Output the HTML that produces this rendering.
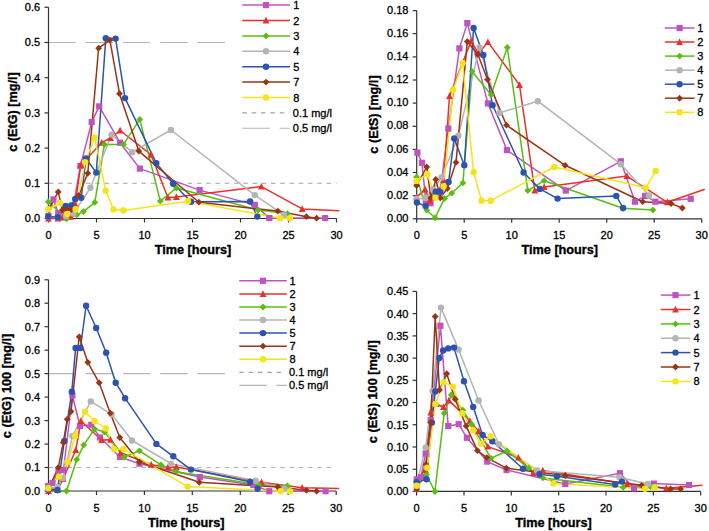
<!DOCTYPE html>
<html><head><meta charset="utf-8"><title>EtG EtS charts</title>
<style>
html,body{margin:0;padding:0;background:#fff;}
body{width:709px;height:531px;overflow:hidden;}
svg{display:block;}
.t{font-family:"Liberation Sans",sans-serif;font-size:11px;fill:#000;stroke:#000;stroke-width:0.3px;}
.b{font-family:"Liberation Sans",sans-serif;font-size:12.7px;font-weight:bold;fill:#000;stroke:#000;stroke-width:0.35px;}
</style></head>
<body>
<svg width="709" height="531" viewBox="0 0 709 531">
<rect width="709" height="531" fill="#fff"/>
<line x1="49.0" y1="183.3" x2="336.5" y2="183.3" stroke="#A2A2A2" stroke-width="1.1" stroke-dasharray="4.5 4.75"/>
<line x1="48.5" y1="42.5" x2="336.5" y2="42.5" stroke="#B6B6B6" stroke-width="1.1" stroke-dasharray="27.5 9.75"/>
<path d="M48.5 7.3V218.5H336.5" fill="none" stroke="#333333" stroke-width="1.2"/>
<line x1="44.5" y1="218.5" x2="48.5" y2="218.5" stroke="#333333" stroke-width="1.2"/>
<text x="40.1" y="222.4" class="t" text-anchor="end">0.0</text>
<line x1="44.5" y1="183.3" x2="48.5" y2="183.3" stroke="#333333" stroke-width="1.2"/>
<text x="40.1" y="187.2" class="t" text-anchor="end">0.1</text>
<line x1="44.5" y1="148.1" x2="48.5" y2="148.1" stroke="#333333" stroke-width="1.2"/>
<text x="40.1" y="152.0" class="t" text-anchor="end">0.2</text>
<line x1="44.5" y1="112.9" x2="48.5" y2="112.9" stroke="#333333" stroke-width="1.2"/>
<text x="40.1" y="116.8" class="t" text-anchor="end">0.3</text>
<line x1="44.5" y1="77.7" x2="48.5" y2="77.7" stroke="#333333" stroke-width="1.2"/>
<text x="40.1" y="81.6" class="t" text-anchor="end">0.4</text>
<line x1="44.5" y1="42.5" x2="48.5" y2="42.5" stroke="#333333" stroke-width="1.2"/>
<text x="40.1" y="46.4" class="t" text-anchor="end">0.5</text>
<line x1="44.5" y1="7.3" x2="48.5" y2="7.3" stroke="#333333" stroke-width="1.2"/>
<text x="40.1" y="11.2" class="t" text-anchor="end">0.6</text>
<line x1="48.5" y1="218.5" x2="48.5" y2="222.5" stroke="#333333" stroke-width="1.2"/>
<text x="48.5" y="238.8" class="t" text-anchor="middle">0</text>
<line x1="96.5" y1="218.5" x2="96.5" y2="222.5" stroke="#333333" stroke-width="1.2"/>
<text x="96.5" y="238.8" class="t" text-anchor="middle">5</text>
<line x1="144.5" y1="218.5" x2="144.5" y2="222.5" stroke="#333333" stroke-width="1.2"/>
<text x="144.5" y="238.8" class="t" text-anchor="middle">10</text>
<line x1="192.5" y1="218.5" x2="192.5" y2="222.5" stroke="#333333" stroke-width="1.2"/>
<text x="192.5" y="238.8" class="t" text-anchor="middle">15</text>
<line x1="240.5" y1="218.5" x2="240.5" y2="222.5" stroke="#333333" stroke-width="1.2"/>
<text x="240.5" y="238.8" class="t" text-anchor="middle">20</text>
<line x1="288.5" y1="218.5" x2="288.5" y2="222.5" stroke="#333333" stroke-width="1.2"/>
<text x="288.5" y="238.8" class="t" text-anchor="middle">25</text>
<line x1="336.5" y1="218.5" x2="336.5" y2="222.5" stroke="#333333" stroke-width="1.2"/>
<text x="336.5" y="238.8" class="t" text-anchor="middle">30</text>
<text x="193" y="254.3" class="b" text-anchor="middle">Time [hours]</text>
<text transform="translate(17.3,112) rotate(-90)" class="b" text-anchor="middle">c (EtG) [mg/l]</text>
<polyline points="48.4,216.0 53.5,199.4 58.2,213.2 66.0,212.0 73.0,208.0 80.4,166.0 91.7,122.1 99.2,106.4 120.0,142.7 139.9,168.6 199.6,190.1 254.8,204.9 269.3,218.1 325.2,218.1" fill="none" stroke="#BE55BF" stroke-width="1.5" stroke-linejoin="round"/>
<polyline points="48.4,218.5 58.0,218.5 62.4,217.4 70.7,216.8 75.2,204.3 80.8,165.0 101.7,142.7 110.5,138.0 120.1,130.5 151.0,154.7 167.9,197.5 176.4,196.9 261.4,186.6 302.2,208.9 339.2,210.8" fill="none" stroke="#E8302C" stroke-width="1.5" stroke-linejoin="round"/>
<polyline points="48.3,201.8 66.5,218.8 76.8,214.8 83.5,211.6 94.8,202.4 104.4,144.4 123.5,144.4 139.8,119.4 160.3,201.1 176.4,188.0 258.1,210.0 287.4,213.6" fill="none" stroke="#58BF0E" stroke-width="1.5" stroke-linejoin="round"/>
<polyline points="48.4,216.4 57.8,217.2 66.0,216.0 73.4,213.5 90.4,187.8 111.6,134.6 132.1,152.2 170.9,130.0 254.8,195.1 284.0,214.8" fill="none" stroke="#B4B4B4" stroke-width="1.5" stroke-linejoin="round"/>
<polyline points="48.3,216.4 57.8,217.2 65.6,206.0 71.2,205.5 75.2,199.0 81.2,197.8 86.0,158.5 96.3,172.6 105.8,38.2 115.6,38.6 125.0,98.1 156.3,163.1 173.2,183.8 191.1,201.7 250.1,201.5 257.3,216.6" fill="none" stroke="#2C54AE" stroke-width="1.5" stroke-linejoin="round"/>
<polyline points="48.3,209.3 58.2,191.9 62.4,210.0 66.9,209.3 71.4,209.6 78.8,195.4 87.8,173.3 98.6,48.2 109.9,40.1 119.5,93.7 138.8,151.1 198.9,202.2 277.8,211.1 306.4,216.7 316.6,218.2" fill="none" stroke="#9A3512" stroke-width="1.5" stroke-linejoin="round"/>
<polyline points="48.3,209.3 59.8,202.9 67.3,214.0 75.6,209.3 85.2,162.1 94.7,137.7 105.7,190.6 113.5,209.5 123.4,210.4 188.0,201.3 280.3,218.2 289.9,218.2" fill="none" stroke="#F4E41C" stroke-width="1.5" stroke-linejoin="round"/>
<rect x="45.3" y="212.9" width="6.2" height="6.2" fill="#BE55BF"/>
<rect x="50.4" y="196.3" width="6.2" height="6.2" fill="#BE55BF"/>
<rect x="55.1" y="210.1" width="6.2" height="6.2" fill="#BE55BF"/>
<rect x="62.9" y="208.9" width="6.2" height="6.2" fill="#BE55BF"/>
<rect x="69.9" y="204.9" width="6.2" height="6.2" fill="#BE55BF"/>
<rect x="77.3" y="162.9" width="6.2" height="6.2" fill="#BE55BF"/>
<rect x="88.6" y="119.0" width="6.2" height="6.2" fill="#BE55BF"/>
<rect x="96.1" y="103.3" width="6.2" height="6.2" fill="#BE55BF"/>
<rect x="116.9" y="139.6" width="6.2" height="6.2" fill="#BE55BF"/>
<rect x="136.8" y="165.5" width="6.2" height="6.2" fill="#BE55BF"/>
<rect x="196.5" y="187.0" width="6.2" height="6.2" fill="#BE55BF"/>
<rect x="251.7" y="201.8" width="6.2" height="6.2" fill="#BE55BF"/>
<rect x="266.2" y="215.0" width="6.2" height="6.2" fill="#BE55BF"/>
<rect x="322.1" y="215.0" width="6.2" height="6.2" fill="#BE55BF"/>
<path d="M48.4 214.8L51.8 221.5L45.0 221.5Z" fill="#E8302C"/>
<path d="M58.0 214.8L61.4 221.5L54.6 221.5Z" fill="#E8302C"/>
<path d="M62.4 213.7L65.8 220.4L59.0 220.4Z" fill="#E8302C"/>
<path d="M70.7 213.1L74.1 219.8L67.3 219.8Z" fill="#E8302C"/>
<path d="M75.2 200.6L78.6 207.3L71.8 207.3Z" fill="#E8302C"/>
<path d="M80.8 161.3L84.2 168.0L77.4 168.0Z" fill="#E8302C"/>
<path d="M101.7 139.0L105.1 145.7L98.3 145.7Z" fill="#E8302C"/>
<path d="M110.5 134.3L113.9 141.0L107.1 141.0Z" fill="#E8302C"/>
<path d="M120.1 126.8L123.5 133.5L116.7 133.5Z" fill="#E8302C"/>
<path d="M151.0 151.0L154.4 157.7L147.6 157.7Z" fill="#E8302C"/>
<path d="M167.9 193.8L171.3 200.5L164.5 200.5Z" fill="#E8302C"/>
<path d="M176.4 193.2L179.8 199.9L173.0 199.9Z" fill="#E8302C"/>
<path d="M261.4 182.9L264.8 189.6L258.0 189.6Z" fill="#E8302C"/>
<path d="M302.2 205.2L305.6 211.9L298.8 211.9Z" fill="#E8302C"/>
<path d="M48.3 198.4L51.7 201.8L48.3 205.2L44.9 201.8Z" fill="#58BF0E"/>
<path d="M66.5 215.4L69.9 218.8L66.5 222.2L63.1 218.8Z" fill="#58BF0E"/>
<path d="M76.8 211.4L80.2 214.8L76.8 218.2L73.4 214.8Z" fill="#58BF0E"/>
<path d="M83.5 208.2L86.9 211.6L83.5 215.0L80.1 211.6Z" fill="#58BF0E"/>
<path d="M94.8 199.0L98.2 202.4L94.8 205.8L91.4 202.4Z" fill="#58BF0E"/>
<path d="M104.4 141.0L107.8 144.4L104.4 147.8L101.0 144.4Z" fill="#58BF0E"/>
<path d="M123.5 141.0L126.9 144.4L123.5 147.8L120.1 144.4Z" fill="#58BF0E"/>
<path d="M139.8 116.0L143.2 119.4L139.8 122.8L136.4 119.4Z" fill="#58BF0E"/>
<path d="M160.3 197.7L163.7 201.1L160.3 204.5L156.9 201.1Z" fill="#58BF0E"/>
<path d="M176.4 184.6L179.8 188.0L176.4 191.4L173.0 188.0Z" fill="#58BF0E"/>
<path d="M258.1 206.6L261.5 210.0L258.1 213.4L254.7 210.0Z" fill="#58BF0E"/>
<path d="M287.4 210.2L290.8 213.6L287.4 217.0L284.0 213.6Z" fill="#58BF0E"/>
<circle cx="48.4" cy="216.4" r="3.2" fill="#B4B4B4"/>
<circle cx="57.8" cy="217.2" r="3.2" fill="#B4B4B4"/>
<circle cx="66.0" cy="216.0" r="3.2" fill="#B4B4B4"/>
<circle cx="73.4" cy="213.5" r="3.2" fill="#B4B4B4"/>
<circle cx="90.4" cy="187.8" r="3.2" fill="#B4B4B4"/>
<circle cx="111.6" cy="134.6" r="3.2" fill="#B4B4B4"/>
<circle cx="132.1" cy="152.2" r="3.2" fill="#B4B4B4"/>
<circle cx="170.9" cy="130.0" r="3.2" fill="#B4B4B4"/>
<circle cx="254.8" cy="195.1" r="3.2" fill="#B4B4B4"/>
<circle cx="284.0" cy="214.8" r="3.2" fill="#B4B4B4"/>
<circle cx="48.3" cy="216.4" r="3.2" fill="#2C54AE"/>
<circle cx="57.8" cy="217.2" r="3.2" fill="#2C54AE"/>
<circle cx="65.6" cy="206.0" r="3.2" fill="#2C54AE"/>
<circle cx="71.2" cy="205.5" r="3.2" fill="#2C54AE"/>
<circle cx="75.2" cy="199.0" r="3.2" fill="#2C54AE"/>
<circle cx="81.2" cy="197.8" r="3.2" fill="#2C54AE"/>
<circle cx="86.0" cy="158.5" r="3.2" fill="#2C54AE"/>
<circle cx="96.3" cy="172.6" r="3.2" fill="#2C54AE"/>
<circle cx="105.8" cy="38.2" r="3.2" fill="#2C54AE"/>
<circle cx="115.6" cy="38.6" r="3.2" fill="#2C54AE"/>
<circle cx="125.0" cy="98.1" r="3.2" fill="#2C54AE"/>
<circle cx="156.3" cy="163.1" r="3.2" fill="#2C54AE"/>
<circle cx="173.2" cy="183.8" r="3.2" fill="#2C54AE"/>
<circle cx="191.1" cy="201.7" r="3.2" fill="#2C54AE"/>
<circle cx="250.1" cy="201.5" r="3.2" fill="#2C54AE"/>
<circle cx="257.3" cy="216.6" r="3.2" fill="#2C54AE"/>
<path d="M48.3 205.9L51.7 209.3L48.3 212.7L44.9 209.3Z" fill="#9A3512"/>
<path d="M58.2 188.5L61.6 191.9L58.2 195.3L54.8 191.9Z" fill="#9A3512"/>
<path d="M62.4 206.6L65.8 210.0L62.4 213.4L59.0 210.0Z" fill="#9A3512"/>
<path d="M66.9 205.9L70.3 209.3L66.9 212.7L63.5 209.3Z" fill="#9A3512"/>
<path d="M71.4 206.2L74.8 209.6L71.4 213.0L68.0 209.6Z" fill="#9A3512"/>
<path d="M78.8 192.0L82.2 195.4L78.8 198.8L75.4 195.4Z" fill="#9A3512"/>
<path d="M87.8 169.9L91.2 173.3L87.8 176.7L84.4 173.3Z" fill="#9A3512"/>
<path d="M98.6 44.8L102.0 48.2L98.6 51.6L95.2 48.2Z" fill="#9A3512"/>
<path d="M109.9 36.7L113.3 40.1L109.9 43.5L106.5 40.1Z" fill="#9A3512"/>
<path d="M119.5 90.3L122.9 93.7L119.5 97.1L116.1 93.7Z" fill="#9A3512"/>
<path d="M138.8 147.7L142.2 151.1L138.8 154.5L135.4 151.1Z" fill="#9A3512"/>
<path d="M198.9 198.8L202.3 202.2L198.9 205.6L195.5 202.2Z" fill="#9A3512"/>
<path d="M277.8 207.7L281.2 211.1L277.8 214.5L274.4 211.1Z" fill="#9A3512"/>
<path d="M306.4 213.3L309.8 216.7L306.4 220.1L303.0 216.7Z" fill="#9A3512"/>
<path d="M316.6 214.8L320.0 218.2L316.6 221.6L313.2 218.2Z" fill="#9A3512"/>
<circle cx="48.3" cy="209.3" r="3.2" fill="#F4E41C"/>
<circle cx="59.8" cy="202.9" r="3.2" fill="#F4E41C"/>
<circle cx="67.3" cy="214.0" r="3.2" fill="#F4E41C"/>
<circle cx="75.6" cy="209.3" r="3.2" fill="#F4E41C"/>
<circle cx="85.2" cy="162.1" r="3.2" fill="#F4E41C"/>
<circle cx="94.7" cy="137.7" r="3.2" fill="#F4E41C"/>
<circle cx="105.7" cy="190.6" r="3.2" fill="#F4E41C"/>
<circle cx="113.5" cy="209.5" r="3.2" fill="#F4E41C"/>
<circle cx="123.4" cy="210.4" r="3.2" fill="#F4E41C"/>
<circle cx="188.0" cy="201.3" r="3.2" fill="#F4E41C"/>
<circle cx="280.3" cy="218.2" r="3.2" fill="#F4E41C"/>
<circle cx="289.9" cy="218.2" r="3.2" fill="#F4E41C"/>
<rect x="232" y="-1" width="114" height="138" fill="#fff"/>
<line x1="242.3" y1="5.1" x2="290" y2="5.1" stroke="#BE55BF" stroke-width="1.5"/>
<rect x="262.9" y="2.0" width="6.2" height="6.2" fill="#BE55BF"/>
<text x="293.3" y="9.1" class="t">1</text>
<line x1="242.3" y1="20.5" x2="290" y2="20.5" stroke="#E8302C" stroke-width="1.5"/>
<path d="M266.0 16.8L269.4 23.5L262.6 23.5Z" fill="#E8302C"/>
<text x="293.3" y="24.5" class="t">2</text>
<line x1="242.3" y1="35.9" x2="290" y2="35.9" stroke="#58BF0E" stroke-width="1.5"/>
<path d="M266.0 32.5L269.4 35.9L266.0 39.3L262.6 35.9Z" fill="#58BF0E"/>
<text x="293.3" y="39.9" class="t">3</text>
<line x1="242.3" y1="51.3" x2="290" y2="51.3" stroke="#B4B4B4" stroke-width="1.5"/>
<circle cx="266.0" cy="51.3" r="3.2" fill="#B4B4B4"/>
<text x="293.3" y="55.3" class="t">4</text>
<line x1="242.3" y1="66.7" x2="290" y2="66.7" stroke="#2C54AE" stroke-width="1.5"/>
<circle cx="266.0" cy="66.7" r="3.2" fill="#2C54AE"/>
<text x="293.3" y="70.7" class="t">5</text>
<line x1="242.3" y1="82.1" x2="290" y2="82.1" stroke="#9A3512" stroke-width="1.5"/>
<path d="M266.0 78.7L269.4 82.1L266.0 85.5L262.6 82.1Z" fill="#9A3512"/>
<text x="293.3" y="86.1" class="t">7</text>
<line x1="242.3" y1="97.5" x2="290" y2="97.5" stroke="#F4E41C" stroke-width="1.5"/>
<circle cx="266.0" cy="97.5" r="3.2" fill="#F4E41C"/>
<text x="293.3" y="101.5" class="t">8</text>
<line x1="242.3" y1="112.9" x2="288.8" y2="112.9" stroke="#A2A2A2" stroke-width="1.1" stroke-dasharray="4.5 4.85"/>
<text x="292.8" y="116.9" class="t">0.1 mg/l</text>
<line x1="242.3" y1="128.3" x2="290" y2="128.3" stroke="#B6B6B6" stroke-width="1.1" stroke-dasharray="27.5 9.75"/>
<text x="292.8" y="132.3" class="t">0.5 mg/l</text>
<path d="M416.7 10.6V218.8H701.7" fill="none" stroke="#333333" stroke-width="1.2"/>
<line x1="412.7" y1="218.8" x2="416.7" y2="218.8" stroke="#333333" stroke-width="1.2"/>
<text x="408.5" y="221.9" class="t" text-anchor="end">0.00</text>
<line x1="412.7" y1="195.7" x2="416.7" y2="195.7" stroke="#333333" stroke-width="1.2"/>
<text x="408.5" y="198.8" class="t" text-anchor="end">0.02</text>
<line x1="412.7" y1="172.5" x2="416.7" y2="172.5" stroke="#333333" stroke-width="1.2"/>
<text x="408.5" y="175.6" class="t" text-anchor="end">0.04</text>
<line x1="412.7" y1="149.4" x2="416.7" y2="149.4" stroke="#333333" stroke-width="1.2"/>
<text x="408.5" y="152.5" class="t" text-anchor="end">0.06</text>
<line x1="412.7" y1="126.3" x2="416.7" y2="126.3" stroke="#333333" stroke-width="1.2"/>
<text x="408.5" y="129.4" class="t" text-anchor="end">0.08</text>
<line x1="412.7" y1="103.1" x2="416.7" y2="103.1" stroke="#333333" stroke-width="1.2"/>
<text x="408.5" y="106.2" class="t" text-anchor="end">0.10</text>
<line x1="412.7" y1="80.0" x2="416.7" y2="80.0" stroke="#333333" stroke-width="1.2"/>
<text x="408.5" y="83.1" class="t" text-anchor="end">0.12</text>
<line x1="412.7" y1="56.9" x2="416.7" y2="56.9" stroke="#333333" stroke-width="1.2"/>
<text x="408.5" y="60.0" class="t" text-anchor="end">0.14</text>
<line x1="412.7" y1="33.7" x2="416.7" y2="33.7" stroke="#333333" stroke-width="1.2"/>
<text x="408.5" y="36.8" class="t" text-anchor="end">0.16</text>
<line x1="412.7" y1="10.6" x2="416.7" y2="10.6" stroke="#333333" stroke-width="1.2"/>
<text x="408.5" y="13.7" class="t" text-anchor="end">0.18</text>
<line x1="416.7" y1="218.8" x2="416.7" y2="222.8" stroke="#333333" stroke-width="1.2"/>
<text x="416.7" y="239.0" class="t" text-anchor="middle">0</text>
<line x1="464.2" y1="218.8" x2="464.2" y2="222.8" stroke="#333333" stroke-width="1.2"/>
<text x="464.2" y="239.0" class="t" text-anchor="middle">5</text>
<line x1="511.7" y1="218.8" x2="511.7" y2="222.8" stroke="#333333" stroke-width="1.2"/>
<text x="511.7" y="239.0" class="t" text-anchor="middle">10</text>
<line x1="559.2" y1="218.8" x2="559.2" y2="222.8" stroke="#333333" stroke-width="1.2"/>
<text x="559.2" y="239.0" class="t" text-anchor="middle">15</text>
<line x1="606.7" y1="218.8" x2="606.7" y2="222.8" stroke="#333333" stroke-width="1.2"/>
<text x="606.7" y="239.0" class="t" text-anchor="middle">20</text>
<line x1="654.2" y1="218.8" x2="654.2" y2="222.8" stroke="#333333" stroke-width="1.2"/>
<text x="654.2" y="239.0" class="t" text-anchor="middle">25</text>
<line x1="701.7" y1="218.8" x2="701.7" y2="222.8" stroke="#333333" stroke-width="1.2"/>
<text x="701.7" y="239.0" class="t" text-anchor="middle">30</text>
<text x="559.8" y="254.3" class="b" text-anchor="middle">Time [hours]</text>
<text transform="translate(377.5,114.5) rotate(-90)" class="b" text-anchor="middle">c (EtS) [mg/l]</text>
<polyline points="417.4,152.6 422.0,162.8 425.9,202.5 430.5,203.2 440.0,193.0 448.3,128.6 459.4,48.4 467.3,23.1 487.9,103.4 507.0,150.1 565.8,190.6 620.8,161.3 635.0,201.7 645.2,195.9 655.4,201.7 690.7,198.8" fill="none" stroke="#BE55BF" stroke-width="1.5" stroke-linejoin="round"/>
<polyline points="416.6,197.1 425.1,189.4 429.7,200.9 436.0,196.0 443.6,180.0 449.5,96.0 471.0,41.2 478.6,53.5 487.9,42.1 519.5,84.9 534.8,190.6 544.2,186.9 626.9,176.1 667.3,202.3 704.8,189.2" fill="none" stroke="#E8302C" stroke-width="1.5" stroke-linejoin="round"/>
<polyline points="416.6,177.0 426.7,210.2 435.1,217.9 444.4,198.6 451.8,193.2 462.9,182.9 472.1,71.6 491.1,94.8 507.3,47.5 527.8,190.6 544.2,180.7 623.0,208.3 652.9,210.0" fill="none" stroke="#58BF0E" stroke-width="1.5" stroke-linejoin="round"/>
<polyline points="416.6,199.0 425.3,197.9 433.0,189.4 441.5,177.5 458.4,135.7 479.5,47.5 499.5,112.9 537.8,101.2 620.8,164.2 649.0,195.4" fill="none" stroke="#B4B4B4" stroke-width="1.5" stroke-linejoin="round"/>
<polyline points="416.9,202.5 425.6,206.1 435.8,191.8 440.3,191.5 448.6,182.0 454.2,138.5 464.3,165.3 473.6,27.9 483.3,54.9 492.6,105.3 523.6,172.5 539.8,188.9 557.6,198.6 616.3,195.9 623.1,208.0" fill="none" stroke="#2C54AE" stroke-width="1.5" stroke-linejoin="round"/>
<polyline points="416.6,185.5 426.7,167.0 430.8,197.9 435.8,179.4 440.3,197.9 447.3,188.5 456.0,162.4 467.3,41.6 477.8,54.3 487.5,79.6 506.5,125.2 565.1,165.3 642.7,201.7 671.1,203.6 682.3,208.0" fill="none" stroke="#9A3512" stroke-width="1.5" stroke-linejoin="round"/>
<polyline points="416.6,180.9 427.4,174.2 435.4,197.8 443.6,186.5 453.1,89.7 462.6,63.1 473.6,172.2 481.6,200.7 490.7,200.7 554.2,167.0 645.8,187.7 655.7,170.9" fill="none" stroke="#F4E41C" stroke-width="1.5" stroke-linejoin="round"/>
<rect x="414.3" y="149.5" width="6.2" height="6.2" fill="#BE55BF"/>
<rect x="418.9" y="159.7" width="6.2" height="6.2" fill="#BE55BF"/>
<rect x="422.8" y="199.4" width="6.2" height="6.2" fill="#BE55BF"/>
<rect x="427.4" y="200.1" width="6.2" height="6.2" fill="#BE55BF"/>
<rect x="436.9" y="189.9" width="6.2" height="6.2" fill="#BE55BF"/>
<rect x="445.2" y="125.5" width="6.2" height="6.2" fill="#BE55BF"/>
<rect x="456.3" y="45.3" width="6.2" height="6.2" fill="#BE55BF"/>
<rect x="464.2" y="20.0" width="6.2" height="6.2" fill="#BE55BF"/>
<rect x="484.8" y="100.3" width="6.2" height="6.2" fill="#BE55BF"/>
<rect x="503.9" y="147.0" width="6.2" height="6.2" fill="#BE55BF"/>
<rect x="562.7" y="187.5" width="6.2" height="6.2" fill="#BE55BF"/>
<rect x="617.7" y="158.2" width="6.2" height="6.2" fill="#BE55BF"/>
<rect x="631.9" y="198.6" width="6.2" height="6.2" fill="#BE55BF"/>
<rect x="642.1" y="192.8" width="6.2" height="6.2" fill="#BE55BF"/>
<rect x="652.3" y="198.6" width="6.2" height="6.2" fill="#BE55BF"/>
<rect x="687.6" y="195.7" width="6.2" height="6.2" fill="#BE55BF"/>
<path d="M416.6 193.4L420.0 200.1L413.2 200.1Z" fill="#E8302C"/>
<path d="M425.1 185.7L428.5 192.4L421.7 192.4Z" fill="#E8302C"/>
<path d="M429.7 197.2L433.1 203.9L426.3 203.9Z" fill="#E8302C"/>
<path d="M436.0 192.3L439.4 199.0L432.6 199.0Z" fill="#E8302C"/>
<path d="M443.6 176.3L447.0 183.0L440.2 183.0Z" fill="#E8302C"/>
<path d="M449.5 92.3L452.9 99.0L446.1 99.0Z" fill="#E8302C"/>
<path d="M471.0 37.5L474.4 44.2L467.6 44.2Z" fill="#E8302C"/>
<path d="M478.6 49.8L482.0 56.5L475.2 56.5Z" fill="#E8302C"/>
<path d="M487.9 38.4L491.3 45.1L484.5 45.1Z" fill="#E8302C"/>
<path d="M519.5 81.2L522.9 87.9L516.1 87.9Z" fill="#E8302C"/>
<path d="M534.8 186.9L538.2 193.6L531.4 193.6Z" fill="#E8302C"/>
<path d="M544.2 183.2L547.6 189.9L540.8 189.9Z" fill="#E8302C"/>
<path d="M626.9 172.4L630.3 179.1L623.5 179.1Z" fill="#E8302C"/>
<path d="M667.3 198.6L670.7 205.3L663.9 205.3Z" fill="#E8302C"/>
<path d="M416.6 173.6L420.0 177.0L416.6 180.4L413.2 177.0Z" fill="#58BF0E"/>
<path d="M426.7 206.8L430.1 210.2L426.7 213.6L423.3 210.2Z" fill="#58BF0E"/>
<path d="M435.1 214.5L438.5 217.9L435.1 221.3L431.7 217.9Z" fill="#58BF0E"/>
<path d="M444.4 195.2L447.8 198.6L444.4 202.0L441.0 198.6Z" fill="#58BF0E"/>
<path d="M451.8 189.8L455.2 193.2L451.8 196.6L448.4 193.2Z" fill="#58BF0E"/>
<path d="M462.9 179.5L466.3 182.9L462.9 186.3L459.5 182.9Z" fill="#58BF0E"/>
<path d="M472.1 68.2L475.5 71.6L472.1 75.0L468.7 71.6Z" fill="#58BF0E"/>
<path d="M491.1 91.4L494.5 94.8L491.1 98.2L487.7 94.8Z" fill="#58BF0E"/>
<path d="M507.3 44.1L510.7 47.5L507.3 50.9L503.9 47.5Z" fill="#58BF0E"/>
<path d="M527.8 187.2L531.2 190.6L527.8 194.0L524.4 190.6Z" fill="#58BF0E"/>
<path d="M544.2 177.3L547.6 180.7L544.2 184.1L540.8 180.7Z" fill="#58BF0E"/>
<path d="M623.0 204.9L626.4 208.3L623.0 211.7L619.6 208.3Z" fill="#58BF0E"/>
<path d="M652.9 206.6L656.3 210.0L652.9 213.4L649.5 210.0Z" fill="#58BF0E"/>
<circle cx="416.6" cy="199.0" r="3.2" fill="#B4B4B4"/>
<circle cx="425.3" cy="197.9" r="3.2" fill="#B4B4B4"/>
<circle cx="433.0" cy="189.4" r="3.2" fill="#B4B4B4"/>
<circle cx="441.5" cy="177.5" r="3.2" fill="#B4B4B4"/>
<circle cx="458.4" cy="135.7" r="3.2" fill="#B4B4B4"/>
<circle cx="479.5" cy="47.5" r="3.2" fill="#B4B4B4"/>
<circle cx="499.5" cy="112.9" r="3.2" fill="#B4B4B4"/>
<circle cx="537.8" cy="101.2" r="3.2" fill="#B4B4B4"/>
<circle cx="620.8" cy="164.2" r="3.2" fill="#B4B4B4"/>
<circle cx="649.0" cy="195.4" r="3.2" fill="#B4B4B4"/>
<circle cx="416.9" cy="202.5" r="3.2" fill="#2C54AE"/>
<circle cx="425.6" cy="206.1" r="3.2" fill="#2C54AE"/>
<circle cx="435.8" cy="191.8" r="3.2" fill="#2C54AE"/>
<circle cx="440.3" cy="191.5" r="3.2" fill="#2C54AE"/>
<circle cx="448.6" cy="182.0" r="3.2" fill="#2C54AE"/>
<circle cx="454.2" cy="138.5" r="3.2" fill="#2C54AE"/>
<circle cx="464.3" cy="165.3" r="3.2" fill="#2C54AE"/>
<circle cx="473.6" cy="27.9" r="3.2" fill="#2C54AE"/>
<circle cx="483.3" cy="54.9" r="3.2" fill="#2C54AE"/>
<circle cx="492.6" cy="105.3" r="3.2" fill="#2C54AE"/>
<circle cx="523.6" cy="172.5" r="3.2" fill="#2C54AE"/>
<circle cx="539.8" cy="188.9" r="3.2" fill="#2C54AE"/>
<circle cx="557.6" cy="198.6" r="3.2" fill="#2C54AE"/>
<circle cx="616.3" cy="195.9" r="3.2" fill="#2C54AE"/>
<circle cx="623.1" cy="208.0" r="3.2" fill="#2C54AE"/>
<path d="M416.6 182.1L420.0 185.5L416.6 188.9L413.2 185.5Z" fill="#9A3512"/>
<path d="M426.7 163.6L430.1 167.0L426.7 170.4L423.3 167.0Z" fill="#9A3512"/>
<path d="M430.8 194.5L434.2 197.9L430.8 201.3L427.4 197.9Z" fill="#9A3512"/>
<path d="M435.8 176.0L439.2 179.4L435.8 182.8L432.4 179.4Z" fill="#9A3512"/>
<path d="M440.3 194.5L443.7 197.9L440.3 201.3L436.9 197.9Z" fill="#9A3512"/>
<path d="M447.3 185.1L450.7 188.5L447.3 191.9L443.9 188.5Z" fill="#9A3512"/>
<path d="M456.0 159.0L459.4 162.4L456.0 165.8L452.6 162.4Z" fill="#9A3512"/>
<path d="M467.3 38.2L470.7 41.6L467.3 45.0L463.9 41.6Z" fill="#9A3512"/>
<path d="M477.8 50.9L481.2 54.3L477.8 57.7L474.4 54.3Z" fill="#9A3512"/>
<path d="M487.5 76.2L490.9 79.6L487.5 83.0L484.1 79.6Z" fill="#9A3512"/>
<path d="M506.5 121.8L509.9 125.2L506.5 128.6L503.1 125.2Z" fill="#9A3512"/>
<path d="M565.1 161.9L568.5 165.3L565.1 168.7L561.7 165.3Z" fill="#9A3512"/>
<path d="M642.7 198.3L646.1 201.7L642.7 205.1L639.3 201.7Z" fill="#9A3512"/>
<path d="M671.1 200.2L674.5 203.6L671.1 207.0L667.7 203.6Z" fill="#9A3512"/>
<path d="M682.3 204.6L685.7 208.0L682.3 211.4L678.9 208.0Z" fill="#9A3512"/>
<circle cx="416.6" cy="180.9" r="3.2" fill="#F4E41C"/>
<circle cx="427.4" cy="174.2" r="3.2" fill="#F4E41C"/>
<circle cx="435.4" cy="197.8" r="3.2" fill="#F4E41C"/>
<circle cx="443.6" cy="186.5" r="3.2" fill="#F4E41C"/>
<circle cx="453.1" cy="89.7" r="3.2" fill="#F4E41C"/>
<circle cx="462.6" cy="63.1" r="3.2" fill="#F4E41C"/>
<circle cx="473.6" cy="172.2" r="3.2" fill="#F4E41C"/>
<circle cx="481.6" cy="200.7" r="3.2" fill="#F4E41C"/>
<circle cx="490.7" cy="200.7" r="3.2" fill="#F4E41C"/>
<circle cx="554.2" cy="167.0" r="3.2" fill="#F4E41C"/>
<circle cx="645.8" cy="187.7" r="3.2" fill="#F4E41C"/>
<circle cx="655.7" cy="170.9" r="3.2" fill="#F4E41C"/>
<line x1="664.9" y1="28.0" x2="694.5" y2="28.0" stroke="#BE55BF" stroke-width="1.5"/>
<rect x="676.5" y="24.9" width="6.2" height="6.2" fill="#BE55BF"/>
<text x="697.2" y="32.0" class="t">1</text>
<line x1="664.9" y1="42.0" x2="694.5" y2="42.0" stroke="#E8302C" stroke-width="1.5"/>
<path d="M679.6 38.4L683.0 45.0L676.2 45.0Z" fill="#E8302C"/>
<text x="697.2" y="46.0" class="t">2</text>
<line x1="664.9" y1="56.1" x2="694.5" y2="56.1" stroke="#58BF0E" stroke-width="1.5"/>
<path d="M679.6 52.7L683.0 56.1L679.6 59.5L676.2 56.1Z" fill="#58BF0E"/>
<text x="697.2" y="60.1" class="t">3</text>
<line x1="664.9" y1="70.2" x2="694.5" y2="70.2" stroke="#B4B4B4" stroke-width="1.5"/>
<circle cx="679.6" cy="70.2" r="3.2" fill="#B4B4B4"/>
<text x="697.2" y="74.2" class="t">4</text>
<line x1="664.9" y1="84.2" x2="694.5" y2="84.2" stroke="#2C54AE" stroke-width="1.5"/>
<circle cx="679.6" cy="84.2" r="3.2" fill="#2C54AE"/>
<text x="697.2" y="88.2" class="t">5</text>
<line x1="664.9" y1="98.2" x2="694.5" y2="98.2" stroke="#9A3512" stroke-width="1.5"/>
<path d="M679.6 94.8L683.0 98.2L679.6 101.7L676.2 98.2Z" fill="#9A3512"/>
<text x="697.2" y="102.2" class="t">7</text>
<line x1="664.9" y1="112.3" x2="694.5" y2="112.3" stroke="#F4E41C" stroke-width="1.5"/>
<circle cx="679.6" cy="112.3" r="3.2" fill="#F4E41C"/>
<text x="697.2" y="116.3" class="t">8</text>
<line x1="49.0" y1="467.5" x2="336.2" y2="467.5" stroke="#B2B2B2" stroke-width="1.1" stroke-dasharray="4.5 4.75"/>
<line x1="48.5" y1="373.6" x2="336.2" y2="373.6" stroke="#B6B6B6" stroke-width="1.1" stroke-dasharray="27.5 9.75"/>
<path d="M48.5 279.8V491.0H336.2" fill="none" stroke="#333333" stroke-width="1.2"/>
<line x1="44.5" y1="491.0" x2="48.5" y2="491.0" stroke="#333333" stroke-width="1.2"/>
<text x="40.1" y="494.9" class="t" text-anchor="end">0.0</text>
<line x1="44.5" y1="467.5" x2="48.5" y2="467.5" stroke="#333333" stroke-width="1.2"/>
<text x="40.1" y="471.4" class="t" text-anchor="end">0.1</text>
<line x1="44.5" y1="444.1" x2="48.5" y2="444.1" stroke="#333333" stroke-width="1.2"/>
<text x="40.1" y="448.0" class="t" text-anchor="end">0.2</text>
<line x1="44.5" y1="420.6" x2="48.5" y2="420.6" stroke="#333333" stroke-width="1.2"/>
<text x="40.1" y="424.5" class="t" text-anchor="end">0.3</text>
<line x1="44.5" y1="397.1" x2="48.5" y2="397.1" stroke="#333333" stroke-width="1.2"/>
<text x="40.1" y="401.0" class="t" text-anchor="end">0.4</text>
<line x1="44.5" y1="373.6" x2="48.5" y2="373.6" stroke="#333333" stroke-width="1.2"/>
<text x="40.1" y="377.5" class="t" text-anchor="end">0.5</text>
<line x1="44.5" y1="350.2" x2="48.5" y2="350.2" stroke="#333333" stroke-width="1.2"/>
<text x="40.1" y="354.1" class="t" text-anchor="end">0.6</text>
<line x1="44.5" y1="326.7" x2="48.5" y2="326.7" stroke="#333333" stroke-width="1.2"/>
<text x="40.1" y="330.6" class="t" text-anchor="end">0.7</text>
<line x1="44.5" y1="303.2" x2="48.5" y2="303.2" stroke="#333333" stroke-width="1.2"/>
<text x="40.1" y="307.1" class="t" text-anchor="end">0.8</text>
<line x1="44.5" y1="279.8" x2="48.5" y2="279.8" stroke="#333333" stroke-width="1.2"/>
<text x="40.1" y="283.7" class="t" text-anchor="end">0.9</text>
<line x1="48.5" y1="491.0" x2="48.5" y2="495.0" stroke="#333333" stroke-width="1.2"/>
<text x="48.5" y="511.5" class="t" text-anchor="middle">0</text>
<line x1="96.5" y1="491.0" x2="96.5" y2="495.0" stroke="#333333" stroke-width="1.2"/>
<text x="96.5" y="511.5" class="t" text-anchor="middle">5</text>
<line x1="144.4" y1="491.0" x2="144.4" y2="495.0" stroke="#333333" stroke-width="1.2"/>
<text x="144.4" y="511.5" class="t" text-anchor="middle">10</text>
<line x1="192.3" y1="491.0" x2="192.3" y2="495.0" stroke="#333333" stroke-width="1.2"/>
<text x="192.3" y="511.5" class="t" text-anchor="middle">15</text>
<line x1="240.3" y1="491.0" x2="240.3" y2="495.0" stroke="#333333" stroke-width="1.2"/>
<text x="240.3" y="511.5" class="t" text-anchor="middle">20</text>
<line x1="288.2" y1="491.0" x2="288.2" y2="495.0" stroke="#333333" stroke-width="1.2"/>
<text x="288.2" y="511.5" class="t" text-anchor="middle">25</text>
<line x1="336.2" y1="491.0" x2="336.2" y2="495.0" stroke="#333333" stroke-width="1.2"/>
<text x="336.2" y="511.5" class="t" text-anchor="middle">30</text>
<text x="186.2" y="526.9" class="b" text-anchor="middle">Time [hours]</text>
<text transform="translate(10.8,386) rotate(-90)" class="b" text-anchor="middle">c (EtG) 100 [mg/l]</text>
<polyline points="48.3,486.0 52.5,483.0 58.5,470.5 63.5,470.0 72.4,395.5 80.0,426.0 91.3,424.8 100.0,437.5 120.0,457.0 139.5,463.7 199.8,477.0 253.3,485.0 269.3,491.2 325.6,491.2" fill="none" stroke="#BE55BF" stroke-width="1.5" stroke-linejoin="round"/>
<polyline points="48.4,491.0 57.5,490.0 63.2,478.8 75.8,450.0 80.9,421.0 101.6,440.0 110.5,439.8 120.7,452.8 151.3,464.7 168.0,467.3 176.3,466.9 261.5,482.3 302.2,487.8 339.2,488.5" fill="none" stroke="#E8302C" stroke-width="1.5" stroke-linejoin="round"/>
<polyline points="48.4,487.0 57.5,490.5 66.5,491.0 76.7,459.6 83.7,445.1 94.6,428.9 104.5,432.0 124.2,457.0 139.5,450.8 160.9,464.8 176.3,471.7 258.6,484.6 287.4,485.8" fill="none" stroke="#58BF0E" stroke-width="1.5" stroke-linejoin="round"/>
<polyline points="48.4,488.0 57.5,487.0 63.0,478.0 67.0,462.0 72.4,436.0 90.8,401.4 111.6,414.3 132.0,440.5 171.0,463.7 255.6,480.8 284.4,488.8" fill="none" stroke="#B4B4B4" stroke-width="1.5" stroke-linejoin="round"/>
<polyline points="48.4,489.5 57.5,489.9 64.3,441.0 71.8,391.8 75.6,348.0 80.4,348.0 86.1,305.8 96.2,328.0 106.2,352.8 115.7,382.7 125.1,398.2 156.4,443.9 173.3,456.3 191.0,469.6 250.1,481.8 257.6,488.7" fill="none" stroke="#2C54AE" stroke-width="1.5" stroke-linejoin="round"/>
<polyline points="48.4,489.0 58.3,467.6 63.3,442.5 67.2,419.3 71.0,411.5 79.2,336.8 87.8,362.3 99.2,382.8 110.3,413.2 119.8,437.5 139.5,462.0 199.3,482.3 277.8,487.0 306.4,490.3 316.6,491.2" fill="none" stroke="#9A3512" stroke-width="1.5" stroke-linejoin="round"/>
<polyline points="48.3,488.4 59.0,476.6 67.7,462.0 75.2,436.0 85.0,411.7 94.5,421.0 105.8,428.5 114.2,449.2 123.4,449.2 187.6,486.6 280.7,491.2 290.0,491.2" fill="none" stroke="#F4E41C" stroke-width="1.5" stroke-linejoin="round"/>
<rect x="45.2" y="482.9" width="6.2" height="6.2" fill="#BE55BF"/>
<rect x="49.4" y="479.9" width="6.2" height="6.2" fill="#BE55BF"/>
<rect x="55.4" y="467.4" width="6.2" height="6.2" fill="#BE55BF"/>
<rect x="60.4" y="466.9" width="6.2" height="6.2" fill="#BE55BF"/>
<rect x="69.3" y="392.4" width="6.2" height="6.2" fill="#BE55BF"/>
<rect x="76.9" y="422.9" width="6.2" height="6.2" fill="#BE55BF"/>
<rect x="88.2" y="421.7" width="6.2" height="6.2" fill="#BE55BF"/>
<rect x="96.9" y="434.4" width="6.2" height="6.2" fill="#BE55BF"/>
<rect x="116.9" y="453.9" width="6.2" height="6.2" fill="#BE55BF"/>
<rect x="136.4" y="460.6" width="6.2" height="6.2" fill="#BE55BF"/>
<rect x="196.7" y="473.9" width="6.2" height="6.2" fill="#BE55BF"/>
<rect x="250.2" y="481.9" width="6.2" height="6.2" fill="#BE55BF"/>
<rect x="266.2" y="488.1" width="6.2" height="6.2" fill="#BE55BF"/>
<rect x="322.5" y="488.1" width="6.2" height="6.2" fill="#BE55BF"/>
<path d="M48.4 487.3L51.8 494.0L45.0 494.0Z" fill="#E8302C"/>
<path d="M57.5 486.3L60.9 493.0L54.1 493.0Z" fill="#E8302C"/>
<path d="M63.2 475.1L66.6 481.8L59.8 481.8Z" fill="#E8302C"/>
<path d="M75.8 446.3L79.2 453.0L72.4 453.0Z" fill="#E8302C"/>
<path d="M80.9 417.3L84.3 424.0L77.5 424.0Z" fill="#E8302C"/>
<path d="M101.6 436.3L105.0 443.0L98.2 443.0Z" fill="#E8302C"/>
<path d="M110.5 436.1L113.9 442.8L107.1 442.8Z" fill="#E8302C"/>
<path d="M120.7 449.1L124.1 455.8L117.3 455.8Z" fill="#E8302C"/>
<path d="M151.3 461.0L154.7 467.7L147.9 467.7Z" fill="#E8302C"/>
<path d="M168.0 463.6L171.4 470.3L164.6 470.3Z" fill="#E8302C"/>
<path d="M176.3 463.2L179.7 469.9L172.9 469.9Z" fill="#E8302C"/>
<path d="M261.5 478.6L264.9 485.3L258.1 485.3Z" fill="#E8302C"/>
<path d="M302.2 484.1L305.6 490.8L298.8 490.8Z" fill="#E8302C"/>
<path d="M48.4 483.6L51.8 487.0L48.4 490.4L45.0 487.0Z" fill="#58BF0E"/>
<path d="M57.5 487.1L60.9 490.5L57.5 493.9L54.1 490.5Z" fill="#58BF0E"/>
<path d="M66.5 487.6L69.9 491.0L66.5 494.4L63.1 491.0Z" fill="#58BF0E"/>
<path d="M76.7 456.2L80.1 459.6L76.7 463.0L73.3 459.6Z" fill="#58BF0E"/>
<path d="M83.7 441.7L87.1 445.1L83.7 448.5L80.3 445.1Z" fill="#58BF0E"/>
<path d="M94.6 425.5L98.0 428.9L94.6 432.3L91.2 428.9Z" fill="#58BF0E"/>
<path d="M104.5 428.6L107.9 432.0L104.5 435.4L101.1 432.0Z" fill="#58BF0E"/>
<path d="M124.2 453.6L127.6 457.0L124.2 460.4L120.8 457.0Z" fill="#58BF0E"/>
<path d="M139.5 447.4L142.9 450.8L139.5 454.2L136.1 450.8Z" fill="#58BF0E"/>
<path d="M160.9 461.4L164.3 464.8L160.9 468.2L157.5 464.8Z" fill="#58BF0E"/>
<path d="M176.3 468.3L179.7 471.7L176.3 475.1L172.9 471.7Z" fill="#58BF0E"/>
<path d="M258.6 481.2L262.0 484.6L258.6 488.0L255.2 484.6Z" fill="#58BF0E"/>
<path d="M287.4 482.4L290.8 485.8L287.4 489.2L284.0 485.8Z" fill="#58BF0E"/>
<circle cx="48.4" cy="488.0" r="3.2" fill="#B4B4B4"/>
<circle cx="57.5" cy="487.0" r="3.2" fill="#B4B4B4"/>
<circle cx="63.0" cy="478.0" r="3.2" fill="#B4B4B4"/>
<circle cx="67.0" cy="462.0" r="3.2" fill="#B4B4B4"/>
<circle cx="72.4" cy="436.0" r="3.2" fill="#B4B4B4"/>
<circle cx="90.8" cy="401.4" r="3.2" fill="#B4B4B4"/>
<circle cx="111.6" cy="414.3" r="3.2" fill="#B4B4B4"/>
<circle cx="132.0" cy="440.5" r="3.2" fill="#B4B4B4"/>
<circle cx="171.0" cy="463.7" r="3.2" fill="#B4B4B4"/>
<circle cx="255.6" cy="480.8" r="3.2" fill="#B4B4B4"/>
<circle cx="284.4" cy="488.8" r="3.2" fill="#B4B4B4"/>
<circle cx="48.4" cy="489.5" r="3.2" fill="#2C54AE"/>
<circle cx="57.5" cy="489.9" r="3.2" fill="#2C54AE"/>
<circle cx="64.3" cy="441.0" r="3.2" fill="#2C54AE"/>
<circle cx="71.8" cy="391.8" r="3.2" fill="#2C54AE"/>
<circle cx="75.6" cy="348.0" r="3.2" fill="#2C54AE"/>
<circle cx="80.4" cy="348.0" r="3.2" fill="#2C54AE"/>
<circle cx="86.1" cy="305.8" r="3.2" fill="#2C54AE"/>
<circle cx="96.2" cy="328.0" r="3.2" fill="#2C54AE"/>
<circle cx="106.2" cy="352.8" r="3.2" fill="#2C54AE"/>
<circle cx="115.7" cy="382.7" r="3.2" fill="#2C54AE"/>
<circle cx="125.1" cy="398.2" r="3.2" fill="#2C54AE"/>
<circle cx="156.4" cy="443.9" r="3.2" fill="#2C54AE"/>
<circle cx="173.3" cy="456.3" r="3.2" fill="#2C54AE"/>
<circle cx="191.0" cy="469.6" r="3.2" fill="#2C54AE"/>
<circle cx="250.1" cy="481.8" r="3.2" fill="#2C54AE"/>
<circle cx="257.6" cy="488.7" r="3.2" fill="#2C54AE"/>
<path d="M48.4 485.6L51.8 489.0L48.4 492.4L45.0 489.0Z" fill="#9A3512"/>
<path d="M58.3 464.2L61.7 467.6L58.3 471.0L54.9 467.6Z" fill="#9A3512"/>
<path d="M63.3 439.1L66.7 442.5L63.3 445.9L59.9 442.5Z" fill="#9A3512"/>
<path d="M67.2 415.9L70.6 419.3L67.2 422.7L63.8 419.3Z" fill="#9A3512"/>
<path d="M71.0 408.1L74.4 411.5L71.0 414.9L67.6 411.5Z" fill="#9A3512"/>
<path d="M79.2 333.4L82.6 336.8L79.2 340.2L75.8 336.8Z" fill="#9A3512"/>
<path d="M87.8 358.9L91.2 362.3L87.8 365.7L84.4 362.3Z" fill="#9A3512"/>
<path d="M99.2 379.4L102.6 382.8L99.2 386.2L95.8 382.8Z" fill="#9A3512"/>
<path d="M110.3 409.8L113.7 413.2L110.3 416.6L106.9 413.2Z" fill="#9A3512"/>
<path d="M119.8 434.1L123.2 437.5L119.8 440.9L116.4 437.5Z" fill="#9A3512"/>
<path d="M139.5 458.6L142.9 462.0L139.5 465.4L136.1 462.0Z" fill="#9A3512"/>
<path d="M199.3 478.9L202.7 482.3L199.3 485.7L195.9 482.3Z" fill="#9A3512"/>
<path d="M277.8 483.6L281.2 487.0L277.8 490.4L274.4 487.0Z" fill="#9A3512"/>
<path d="M306.4 486.9L309.8 490.3L306.4 493.7L303.0 490.3Z" fill="#9A3512"/>
<path d="M316.6 487.8L320.0 491.2L316.6 494.6L313.2 491.2Z" fill="#9A3512"/>
<circle cx="48.3" cy="488.4" r="3.2" fill="#F4E41C"/>
<circle cx="59.0" cy="476.6" r="3.2" fill="#F4E41C"/>
<circle cx="67.7" cy="462.0" r="3.2" fill="#F4E41C"/>
<circle cx="75.2" cy="436.0" r="3.2" fill="#F4E41C"/>
<circle cx="85.0" cy="411.7" r="3.2" fill="#F4E41C"/>
<circle cx="94.5" cy="421.0" r="3.2" fill="#F4E41C"/>
<circle cx="105.8" cy="428.5" r="3.2" fill="#F4E41C"/>
<circle cx="114.2" cy="449.2" r="3.2" fill="#F4E41C"/>
<circle cx="123.4" cy="449.2" r="3.2" fill="#F4E41C"/>
<circle cx="187.6" cy="486.6" r="3.2" fill="#F4E41C"/>
<circle cx="280.7" cy="491.2" r="3.2" fill="#F4E41C"/>
<circle cx="290.0" cy="491.2" r="3.2" fill="#F4E41C"/>
<rect x="230" y="272" width="116" height="122" fill="#fff"/>
<line x1="239.3" y1="280.8" x2="286.8" y2="280.8" stroke="#BE55BF" stroke-width="1.5"/>
<rect x="259.9" y="277.7" width="6.2" height="6.2" fill="#BE55BF"/>
<text x="289.5" y="284.8" class="t">1</text>
<line x1="239.3" y1="293.9" x2="286.8" y2="293.9" stroke="#E8302C" stroke-width="1.5"/>
<path d="M263.0 290.2L266.4 296.9L259.6 296.9Z" fill="#E8302C"/>
<text x="289.5" y="297.9" class="t">2</text>
<line x1="239.3" y1="307.0" x2="286.8" y2="307.0" stroke="#58BF0E" stroke-width="1.5"/>
<path d="M263.0 303.6L266.4 307.0L263.0 310.4L259.6 307.0Z" fill="#58BF0E"/>
<text x="289.5" y="311.0" class="t">3</text>
<line x1="239.3" y1="320.0" x2="286.8" y2="320.0" stroke="#B4B4B4" stroke-width="1.5"/>
<circle cx="263.0" cy="320.0" r="3.2" fill="#B4B4B4"/>
<text x="289.5" y="324.0" class="t">4</text>
<line x1="239.3" y1="333.1" x2="286.8" y2="333.1" stroke="#2C54AE" stroke-width="1.5"/>
<circle cx="263.0" cy="333.1" r="3.2" fill="#2C54AE"/>
<text x="289.5" y="337.1" class="t">5</text>
<line x1="239.3" y1="346.2" x2="286.8" y2="346.2" stroke="#9A3512" stroke-width="1.5"/>
<path d="M263.0 342.8L266.4 346.2L263.0 349.6L259.6 346.2Z" fill="#9A3512"/>
<text x="289.5" y="350.2" class="t">7</text>
<line x1="239.3" y1="359.3" x2="286.8" y2="359.3" stroke="#F4E41C" stroke-width="1.5"/>
<circle cx="263.0" cy="359.3" r="3.2" fill="#F4E41C"/>
<text x="289.5" y="363.3" class="t">8</text>
<line x1="239.3" y1="372.4" x2="285.6" y2="372.4" stroke="#A2A2A2" stroke-width="1.1" stroke-dasharray="4.5 4.85"/>
<text x="289.0" y="376.4" class="t">0.1 mg/l</text>
<line x1="239.3" y1="385.4" x2="286.8" y2="385.4" stroke="#B6B6B6" stroke-width="1.1" stroke-dasharray="27.5 9.75"/>
<text x="289.0" y="389.4" class="t">0.5 mg/l</text>
<path d="M416.6 291.4V491.4H700.7" fill="none" stroke="#333333" stroke-width="1.2"/>
<line x1="412.6" y1="491.4" x2="416.6" y2="491.4" stroke="#333333" stroke-width="1.2"/>
<text x="408.5" y="495.3" class="t" text-anchor="end">0.00</text>
<line x1="412.6" y1="469.2" x2="416.6" y2="469.2" stroke="#333333" stroke-width="1.2"/>
<text x="408.5" y="473.1" class="t" text-anchor="end">0.05</text>
<line x1="412.6" y1="447.0" x2="416.6" y2="447.0" stroke="#333333" stroke-width="1.2"/>
<text x="408.5" y="450.9" class="t" text-anchor="end">0.10</text>
<line x1="412.6" y1="424.7" x2="416.6" y2="424.7" stroke="#333333" stroke-width="1.2"/>
<text x="408.5" y="428.6" class="t" text-anchor="end">0.15</text>
<line x1="412.6" y1="402.5" x2="416.6" y2="402.5" stroke="#333333" stroke-width="1.2"/>
<text x="408.5" y="406.4" class="t" text-anchor="end">0.20</text>
<line x1="412.6" y1="380.3" x2="416.6" y2="380.3" stroke="#333333" stroke-width="1.2"/>
<text x="408.5" y="384.2" class="t" text-anchor="end">0.25</text>
<line x1="412.6" y1="358.1" x2="416.6" y2="358.1" stroke="#333333" stroke-width="1.2"/>
<text x="408.5" y="362.0" class="t" text-anchor="end">0.30</text>
<line x1="412.6" y1="335.9" x2="416.6" y2="335.9" stroke="#333333" stroke-width="1.2"/>
<text x="408.5" y="339.8" class="t" text-anchor="end">0.35</text>
<line x1="412.6" y1="313.6" x2="416.6" y2="313.6" stroke="#333333" stroke-width="1.2"/>
<text x="408.5" y="317.5" class="t" text-anchor="end">0.40</text>
<line x1="412.6" y1="291.4" x2="416.6" y2="291.4" stroke="#333333" stroke-width="1.2"/>
<text x="408.5" y="295.3" class="t" text-anchor="end">0.45</text>
<line x1="416.6" y1="491.4" x2="416.6" y2="495.4" stroke="#333333" stroke-width="1.2"/>
<text x="416.6" y="511.5" class="t" text-anchor="middle">0</text>
<line x1="464.0" y1="491.4" x2="464.0" y2="495.4" stroke="#333333" stroke-width="1.2"/>
<text x="464.0" y="511.5" class="t" text-anchor="middle">5</text>
<line x1="511.3" y1="491.4" x2="511.3" y2="495.4" stroke="#333333" stroke-width="1.2"/>
<text x="511.3" y="511.5" class="t" text-anchor="middle">10</text>
<line x1="558.7" y1="491.4" x2="558.7" y2="495.4" stroke="#333333" stroke-width="1.2"/>
<text x="558.7" y="511.5" class="t" text-anchor="middle">15</text>
<line x1="606.0" y1="491.4" x2="606.0" y2="495.4" stroke="#333333" stroke-width="1.2"/>
<text x="606.0" y="511.5" class="t" text-anchor="middle">20</text>
<line x1="653.4" y1="491.4" x2="653.4" y2="495.4" stroke="#333333" stroke-width="1.2"/>
<text x="653.4" y="511.5" class="t" text-anchor="middle">25</text>
<line x1="700.7" y1="491.4" x2="700.7" y2="495.4" stroke="#333333" stroke-width="1.2"/>
<text x="700.7" y="511.5" class="t" text-anchor="middle">30</text>
<text x="553.5" y="526.9" class="b" text-anchor="middle">Time [hours]</text>
<text transform="translate(377.2,391.7) rotate(-90)" class="b" text-anchor="middle">c (EtS) 100 [mg/l]</text>
<polyline points="416.7,479.3 421.0,477.0 425.6,453.6 430.7,420.2 440.4,325.8 448.2,426.1 458.7,424.2 466.9,437.8 487.2,461.6 506.6,470.0 565.3,484.0 619.9,473.2 634.0,488.3 653.8,483.6 689.0,485.0" fill="none" stroke="#BE55BF" stroke-width="1.5" stroke-linejoin="round"/>
<polyline points="416.7,489.0 425.5,470.0 430.7,412.5 436.0,404.0 443.5,407.0 448.9,400.4 469.9,420.9 478.6,431.2 487.9,446.6 518.4,457.6 533.2,473.0 542.8,470.4 626.9,484.0 666.4,488.3 702.5,485.3" fill="none" stroke="#E8302C" stroke-width="1.5" stroke-linejoin="round"/>
<polyline points="416.7,487.0 426.5,474.7 434.9,491.5 444.2,413.2 451.3,395.0 462.9,410.2 471.6,424.2 491.0,458.3 506.9,451.0 528.6,468.2 542.8,477.9 623.2,487.3 650.5,486.5" fill="none" stroke="#58BF0E" stroke-width="1.5" stroke-linejoin="round"/>
<polyline points="416.7,484.0 425.6,447.6 432.6,391.0 441.0,307.6 458.6,349.6 478.6,400.4 498.9,444.3 537.1,470.4 619.4,477.3 647.9,484.0" fill="none" stroke="#B4B4B4" stroke-width="1.5" stroke-linejoin="round"/>
<polyline points="416.7,482.1 426.5,479.3 431.9,422.6 435.3,391.5 439.3,357.9 443.1,350.5 448.2,348.4 454.0,347.6 464.0,381.2 473.2,406.9 482.6,435.0 492.3,441.3 523.0,468.7 539.4,474.2 556.9,476.2 615.2,484.5 621.9,481.6" fill="none" stroke="#2C54AE" stroke-width="1.5" stroke-linejoin="round"/>
<polyline points="416.7,489.2 426.0,464.6 430.7,422.6 435.2,316.5 439.5,390.0 446.7,373.7 455.2,399.2 466.2,426.1 477.4,450.6 486.8,457.6 506.4,468.2 565.3,475.5 641.7,485.3 670.6,489.0 680.6,489.0" fill="none" stroke="#9A3512" stroke-width="1.5" stroke-linejoin="round"/>
<polyline points="416.7,485.7 427.2,467.7 435.4,403.9 443.5,382.1 452.9,386.6 462.2,413.2 473.2,430.3 480.9,443.6 490.5,436.3 553.5,483.5 645.0,488.7 654.6,487.3" fill="none" stroke="#F4E41C" stroke-width="1.5" stroke-linejoin="round"/>
<rect x="413.6" y="476.2" width="6.2" height="6.2" fill="#BE55BF"/>
<rect x="417.9" y="473.9" width="6.2" height="6.2" fill="#BE55BF"/>
<rect x="422.5" y="450.5" width="6.2" height="6.2" fill="#BE55BF"/>
<rect x="427.6" y="417.1" width="6.2" height="6.2" fill="#BE55BF"/>
<rect x="437.3" y="322.7" width="6.2" height="6.2" fill="#BE55BF"/>
<rect x="445.1" y="423.0" width="6.2" height="6.2" fill="#BE55BF"/>
<rect x="455.6" y="421.1" width="6.2" height="6.2" fill="#BE55BF"/>
<rect x="463.8" y="434.7" width="6.2" height="6.2" fill="#BE55BF"/>
<rect x="484.1" y="458.5" width="6.2" height="6.2" fill="#BE55BF"/>
<rect x="503.5" y="466.9" width="6.2" height="6.2" fill="#BE55BF"/>
<rect x="562.2" y="480.9" width="6.2" height="6.2" fill="#BE55BF"/>
<rect x="616.8" y="470.1" width="6.2" height="6.2" fill="#BE55BF"/>
<rect x="630.9" y="485.2" width="6.2" height="6.2" fill="#BE55BF"/>
<rect x="650.7" y="480.5" width="6.2" height="6.2" fill="#BE55BF"/>
<rect x="685.9" y="481.9" width="6.2" height="6.2" fill="#BE55BF"/>
<path d="M416.7 485.3L420.1 492.0L413.3 492.0Z" fill="#E8302C"/>
<path d="M425.5 466.3L428.9 473.0L422.1 473.0Z" fill="#E8302C"/>
<path d="M430.7 408.8L434.1 415.5L427.3 415.5Z" fill="#E8302C"/>
<path d="M436.0 400.3L439.4 407.0L432.6 407.0Z" fill="#E8302C"/>
<path d="M443.5 403.3L446.9 410.0L440.1 410.0Z" fill="#E8302C"/>
<path d="M448.9 396.7L452.3 403.4L445.5 403.4Z" fill="#E8302C"/>
<path d="M469.9 417.2L473.3 423.9L466.5 423.9Z" fill="#E8302C"/>
<path d="M478.6 427.5L482.0 434.2L475.2 434.2Z" fill="#E8302C"/>
<path d="M487.9 442.9L491.3 449.6L484.5 449.6Z" fill="#E8302C"/>
<path d="M518.4 453.9L521.8 460.6L515.0 460.6Z" fill="#E8302C"/>
<path d="M533.2 469.3L536.6 476.0L529.8 476.0Z" fill="#E8302C"/>
<path d="M542.8 466.7L546.2 473.4L539.4 473.4Z" fill="#E8302C"/>
<path d="M626.9 480.3L630.3 487.0L623.5 487.0Z" fill="#E8302C"/>
<path d="M666.4 484.6L669.8 491.3L663.0 491.3Z" fill="#E8302C"/>
<path d="M416.7 483.6L420.1 487.0L416.7 490.4L413.3 487.0Z" fill="#58BF0E"/>
<path d="M426.5 471.3L429.9 474.7L426.5 478.1L423.1 474.7Z" fill="#58BF0E"/>
<path d="M434.9 488.1L438.3 491.5L434.9 494.9L431.5 491.5Z" fill="#58BF0E"/>
<path d="M444.2 409.8L447.6 413.2L444.2 416.6L440.8 413.2Z" fill="#58BF0E"/>
<path d="M451.3 391.6L454.7 395.0L451.3 398.4L447.9 395.0Z" fill="#58BF0E"/>
<path d="M462.9 406.8L466.3 410.2L462.9 413.6L459.5 410.2Z" fill="#58BF0E"/>
<path d="M471.6 420.8L475.0 424.2L471.6 427.6L468.2 424.2Z" fill="#58BF0E"/>
<path d="M491.0 454.9L494.4 458.3L491.0 461.7L487.6 458.3Z" fill="#58BF0E"/>
<path d="M506.9 447.6L510.3 451.0L506.9 454.4L503.5 451.0Z" fill="#58BF0E"/>
<path d="M528.6 464.8L532.0 468.2L528.6 471.6L525.2 468.2Z" fill="#58BF0E"/>
<path d="M542.8 474.5L546.2 477.9L542.8 481.3L539.4 477.9Z" fill="#58BF0E"/>
<path d="M623.2 483.9L626.6 487.3L623.2 490.7L619.8 487.3Z" fill="#58BF0E"/>
<path d="M650.5 483.1L653.9 486.5L650.5 489.9L647.1 486.5Z" fill="#58BF0E"/>
<circle cx="416.7" cy="484.0" r="3.2" fill="#B4B4B4"/>
<circle cx="425.6" cy="447.6" r="3.2" fill="#B4B4B4"/>
<circle cx="432.6" cy="391.0" r="3.2" fill="#B4B4B4"/>
<circle cx="441.0" cy="307.6" r="3.2" fill="#B4B4B4"/>
<circle cx="458.6" cy="349.6" r="3.2" fill="#B4B4B4"/>
<circle cx="478.6" cy="400.4" r="3.2" fill="#B4B4B4"/>
<circle cx="498.9" cy="444.3" r="3.2" fill="#B4B4B4"/>
<circle cx="537.1" cy="470.4" r="3.2" fill="#B4B4B4"/>
<circle cx="619.4" cy="477.3" r="3.2" fill="#B4B4B4"/>
<circle cx="647.9" cy="484.0" r="3.2" fill="#B4B4B4"/>
<circle cx="416.7" cy="482.1" r="3.2" fill="#2C54AE"/>
<circle cx="426.5" cy="479.3" r="3.2" fill="#2C54AE"/>
<circle cx="431.9" cy="422.6" r="3.2" fill="#2C54AE"/>
<circle cx="435.3" cy="391.5" r="3.2" fill="#2C54AE"/>
<circle cx="439.3" cy="357.9" r="3.2" fill="#2C54AE"/>
<circle cx="443.1" cy="350.5" r="3.2" fill="#2C54AE"/>
<circle cx="448.2" cy="348.4" r="3.2" fill="#2C54AE"/>
<circle cx="454.0" cy="347.6" r="3.2" fill="#2C54AE"/>
<circle cx="464.0" cy="381.2" r="3.2" fill="#2C54AE"/>
<circle cx="473.2" cy="406.9" r="3.2" fill="#2C54AE"/>
<circle cx="482.6" cy="435.0" r="3.2" fill="#2C54AE"/>
<circle cx="492.3" cy="441.3" r="3.2" fill="#2C54AE"/>
<circle cx="523.0" cy="468.7" r="3.2" fill="#2C54AE"/>
<circle cx="539.4" cy="474.2" r="3.2" fill="#2C54AE"/>
<circle cx="556.9" cy="476.2" r="3.2" fill="#2C54AE"/>
<circle cx="615.2" cy="484.5" r="3.2" fill="#2C54AE"/>
<circle cx="621.9" cy="481.6" r="3.2" fill="#2C54AE"/>
<path d="M416.7 485.8L420.1 489.2L416.7 492.6L413.3 489.2Z" fill="#9A3512"/>
<path d="M426.0 461.2L429.4 464.6L426.0 468.0L422.6 464.6Z" fill="#9A3512"/>
<path d="M430.7 419.2L434.1 422.6L430.7 426.0L427.3 422.6Z" fill="#9A3512"/>
<path d="M435.2 313.1L438.6 316.5L435.2 319.9L431.8 316.5Z" fill="#9A3512"/>
<path d="M439.5 386.6L442.9 390.0L439.5 393.4L436.1 390.0Z" fill="#9A3512"/>
<path d="M446.7 370.3L450.1 373.7L446.7 377.1L443.3 373.7Z" fill="#9A3512"/>
<path d="M455.2 395.8L458.6 399.2L455.2 402.6L451.8 399.2Z" fill="#9A3512"/>
<path d="M466.2 422.7L469.6 426.1L466.2 429.5L462.8 426.1Z" fill="#9A3512"/>
<path d="M477.4 447.2L480.8 450.6L477.4 454.0L474.0 450.6Z" fill="#9A3512"/>
<path d="M486.8 454.2L490.2 457.6L486.8 461.0L483.4 457.6Z" fill="#9A3512"/>
<path d="M506.4 464.8L509.8 468.2L506.4 471.6L503.0 468.2Z" fill="#9A3512"/>
<path d="M565.3 472.1L568.7 475.5L565.3 478.9L561.9 475.5Z" fill="#9A3512"/>
<path d="M641.7 481.9L645.1 485.3L641.7 488.7L638.3 485.3Z" fill="#9A3512"/>
<path d="M670.6 485.6L674.0 489.0L670.6 492.4L667.2 489.0Z" fill="#9A3512"/>
<path d="M680.6 485.6L684.0 489.0L680.6 492.4L677.2 489.0Z" fill="#9A3512"/>
<circle cx="416.7" cy="485.7" r="3.2" fill="#F4E41C"/>
<circle cx="427.2" cy="467.7" r="3.2" fill="#F4E41C"/>
<circle cx="435.4" cy="403.9" r="3.2" fill="#F4E41C"/>
<circle cx="443.5" cy="382.1" r="3.2" fill="#F4E41C"/>
<circle cx="452.9" cy="386.6" r="3.2" fill="#F4E41C"/>
<circle cx="462.2" cy="413.2" r="3.2" fill="#F4E41C"/>
<circle cx="473.2" cy="430.3" r="3.2" fill="#F4E41C"/>
<circle cx="480.9" cy="443.6" r="3.2" fill="#F4E41C"/>
<circle cx="490.5" cy="436.3" r="3.2" fill="#F4E41C"/>
<circle cx="553.5" cy="483.5" r="3.2" fill="#F4E41C"/>
<circle cx="645.0" cy="488.7" r="3.2" fill="#F4E41C"/>
<circle cx="654.6" cy="487.3" r="3.2" fill="#F4E41C"/>
<line x1="660.8" y1="295.1" x2="690.4" y2="295.1" stroke="#BE55BF" stroke-width="1.5"/>
<rect x="672.4" y="292.0" width="6.2" height="6.2" fill="#BE55BF"/>
<text x="693.5" y="299.1" class="t">1</text>
<line x1="660.8" y1="309.5" x2="690.4" y2="309.5" stroke="#E8302C" stroke-width="1.5"/>
<path d="M675.5 305.8L678.9 312.5L672.1 312.5Z" fill="#E8302C"/>
<text x="693.5" y="313.5" class="t">2</text>
<line x1="660.8" y1="323.9" x2="690.4" y2="323.9" stroke="#58BF0E" stroke-width="1.5"/>
<path d="M675.5 320.5L678.9 323.9L675.5 327.3L672.1 323.9Z" fill="#58BF0E"/>
<text x="693.5" y="327.9" class="t">3</text>
<line x1="660.8" y1="338.2" x2="690.4" y2="338.2" stroke="#B4B4B4" stroke-width="1.5"/>
<circle cx="675.5" cy="338.2" r="3.2" fill="#B4B4B4"/>
<text x="693.5" y="342.2" class="t">4</text>
<line x1="660.8" y1="352.6" x2="690.4" y2="352.6" stroke="#2C54AE" stroke-width="1.5"/>
<circle cx="675.5" cy="352.6" r="3.2" fill="#2C54AE"/>
<text x="693.5" y="356.6" class="t">5</text>
<line x1="660.8" y1="367.0" x2="690.4" y2="367.0" stroke="#9A3512" stroke-width="1.5"/>
<path d="M675.5 363.6L678.9 367.0L675.5 370.4L672.1 367.0Z" fill="#9A3512"/>
<text x="693.5" y="371.0" class="t">7</text>
<line x1="660.8" y1="381.4" x2="690.4" y2="381.4" stroke="#F4E41C" stroke-width="1.5"/>
<circle cx="675.5" cy="381.4" r="3.2" fill="#F4E41C"/>
<text x="693.5" y="385.4" class="t">8</text>
</svg>
</body></html>
